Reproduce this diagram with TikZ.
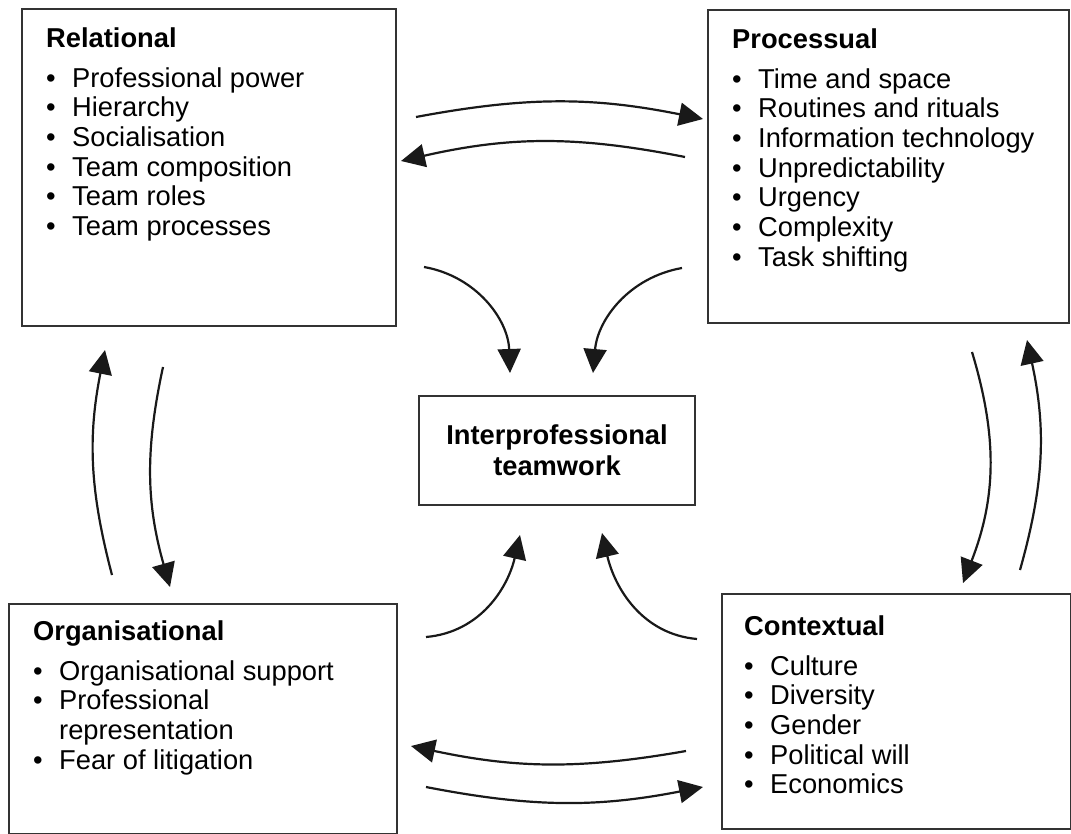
\documentclass[tikz,border=0pt]{standalone}
\usepackage{fontspec}
\setmainfont{Liberation Sans}
\usetikzlibrary{arrows.meta,positioning}

\newcommand{\bul}{\makebox[26pt][l]{\textbullet}}
\newcommand{\cont}{\hspace*{26pt}}

\begin{document}
\begin{tikzpicture}[x=1pt,y=1pt,
  box/.style={draw=black!80,line width=2pt,anchor=north west,inner sep=0pt},
  list/.style={anchor=north west,inner sep=0pt,align=left,
    font=\fontsize{27.3}{29.7}\selectfont},
  flow/.style={-{Triangle[length=24pt,width=23pt]},line width=2.2pt,black!90}]
\useasboundingbox (0,0) rectangle (1071,-834);

\node[box,minimum width=374,minimum height=317] (rel) at (21,-8) {};
\node[box,minimum width=361,minimum height=313] (proc) at (707,-9) {};
\node[box,minimum width=388,minimum height=230] (org) at (8,-603) {};
\node[box,minimum width=349,minimum height=235] (ctx) at (721,-593) {};
\node[box,minimum width=276,minimum height=109,align=center,
  font=\bfseries\fontsize{27.3}{31}\selectfont] (ipt) at (418,-395)
  {Interprofessional\\teamwork};

\node[list] (rel-list) at ([shift={(25,-19.5)}]rel.north west)
  {\textbf{Relational}\\[10pt]
   \bul Professional power\\
   \bul Hierarchy\\
   \bul Socialisation\\
   \bul Team composition\\
   \bul Team roles\\
   \bul Team processes};
\node[list] (proc-list) at ([shift={(25,-19.5)}]proc.north west)
  {\textbf{Processual}\\[10pt]
   \bul Time and space\\
   \bul Routines and rituals\\
   \bul Information technology\\
   \bul Unpredictability\\
   \bul Urgency\\
   \bul Complexity\\
   \bul Task shifting};
\node[list] (org-list) at ([shift={(25,-17.5)}]org.north west)
  {\textbf{Organisational}\\[10pt]
   \bul Organisational support\\
   \bul Professional\\
   \cont representation\\
   \bul Fear of litigation};
\node[list] (ctx-list) at ([shift={(23,-22.5)}]ctx.north west)
  {\textbf{Contextual}\\[10pt]
   \bul Culture\\
   \bul Diversity\\
   \bul Gender\\
   \bul Political will\\
   \bul Economics};

\coordinate (rp1) at (416,-117); \coordinate (rp2) at (703,-119);
\coordinate (pr1) at (685,-157); \coordinate (pr2) at (401,-161);
\coordinate (co1) at (686,-751); \coordinate (co2) at (411,-746);
\coordinate (oc1) at (426,-787); \coordinate (oc2) at (703,-787);
\coordinate (or1) at (112,-575); \coordinate (or2) at (105,-350);
\coordinate (ro1) at (163,-367); \coordinate (ro2) at (170,-587);
\coordinate (pc1) at (972,-352); \coordinate (pc2) at (963,-583);
\coordinate (cp1) at (1020,-570); \coordinate (cp2) at (1027,-340);
\coordinate (ri1) at (424,-267); \coordinate (ri2) at (510,-373);
\coordinate (pi1) at (682,-268); \coordinate (pi2) at (593,-373);
\coordinate (oi1) at (426,-637); \coordinate (oi2) at (520,-535);
\coordinate (ci1) at (697,-639); \coordinate (ci2) at (602,-533);

\draw[flow] (rp1) to[bend left=11] (rp2);
\draw[flow] (pr1) to[bend right=12] (pr2);
\draw[flow] (co1) to[bend left=11] (co2);
\draw[flow] (oc1) to[bend right=11] (oc2);
\draw[flow] (or1) to[bend left=13] (or2);
\draw[flow] (ro1) to[bend right=14] (ro2);
\draw[flow] (pc1) to[bend left=19] (pc2);
\draw[flow] (cp1) to[bend right=14] (cp2);
\draw[flow] (ri1) to[out=-10,in=92] (ri2);
\draw[flow] (pi1) to[out=190,in=85] (pi2);
\draw[flow] (oi1) to[out=5,in=-103] (oi2);
\draw[flow] (ci1) to[out=175,in=-77] (ci2);
\end{tikzpicture}
\end{document}
